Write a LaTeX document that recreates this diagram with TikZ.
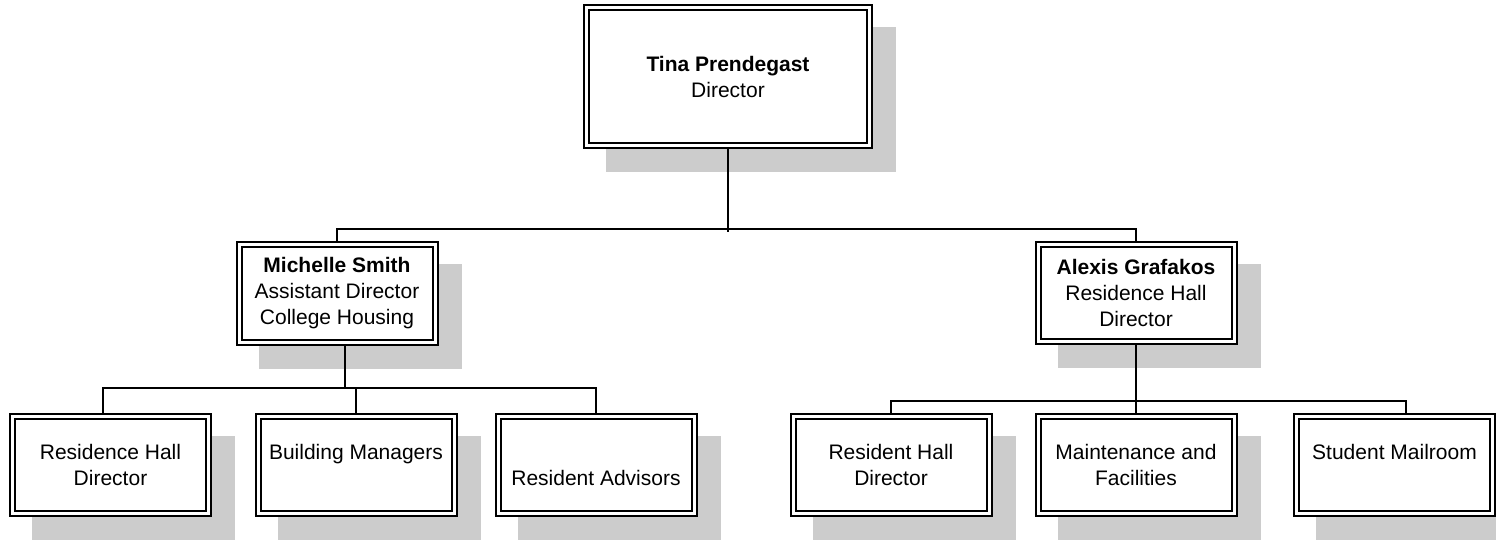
\documentclass[tikz,border=0pt]{standalone}
\usepackage{fontspec}
\setmainfont{Liberation Sans}
\usetikzlibrary{backgrounds}
\tikzset{
    post/.style={draw, double, double distance=1.5pt, line width=1pt, fill=white, align=center,
        outer sep=1.75pt, inner sep=0pt, minimum width=98pt, minimum height=48.75pt,
        font=\fontsize{10.5}{13}\selectfont},
    head/.style={post, minimum width=141.5pt, minimum height=69pt},
    wire/.style={line width=1pt}
}
\newcommand{\dropbox}[1]{
	\fill[black!20]([shift={(23, 23)}]#1.north west)rectangle([shift={(23, 23)}]#1.south east)
}

\begin{document}
\begin{tikzpicture}[x=.5pt, y=-.5pt]
    \useasboundingbox(0, 0)rectangle(1496, 540);
    \node[head](tina)at(728, 76.5){\textbf{Tina Prendegast}\\Director};
    \node[post](michelle)at(337, 293.5){\textbf{Michelle Smith}\\Assistant Director\\College Housing};
    \node[post](alexis)at(1136, 293){\textbf{Alexis Grafakos}\\Residence Hall\\Director};
    \node[post](rhd)at(110.5, 465){Residence Hall\\Director};
    \node[post](bm)at(356, 465){Building Managers\\\vphantom{D}};
    \node[post](ra)at(596, 465){\vphantom{R}\\Resident Advisors};
    \node[post](rhd2)at(891, 465){Resident Hall\\Director};
    \node[post](mf)at(1136, 465){Maintenance and\\Facilities};
    \node[post](sm)at(1394.5, 465){Student Mailroom\\\vphantom{D}};
    \begin{scope}[on background layer]
        \foreach \n in {tina, michelle, alexis, rhd, bm, ra, rhd2, mf, sm}
            \dropbox\n;
    \end{scope}
    \draw[wire](tina.south)--++(0, 83);
    \draw[wire](michelle.north)--++(0, -12)-|(alexis.north);
    \draw[wire]([xshift=4pt]michelle.south)--++(0, 42);
    \draw[wire]([xshift=-3.75pt]rhd.north)--++(0, -25)-|(ra.north);
    \draw[wire](bm.north)--++(0, -25);
    \draw[wire](alexis.south)--(mf.north);
    \draw[wire](rhd2.north)--++(0, -12)-|([xshift=5.75pt]sm.north);
\end{tikzpicture}
\end{document}
